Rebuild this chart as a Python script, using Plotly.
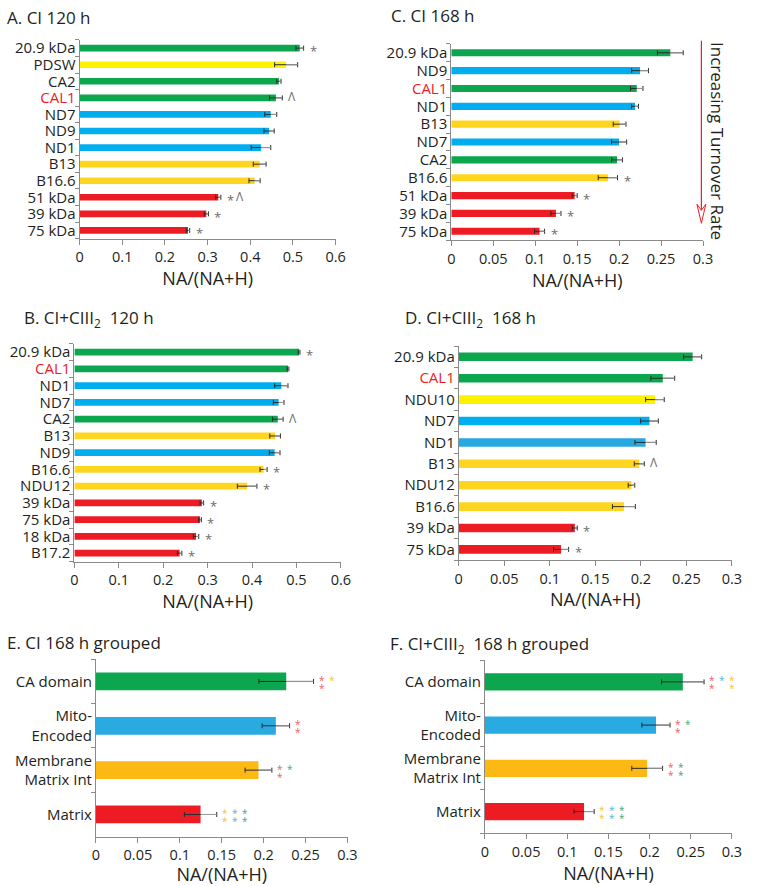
import plotly.graph_objects as go

W, H = 758, 886

# ---------------- data ----------------
# Panel A: CI 120 h
A_labels = ["20.9 kDa", "PDSW", "CA2", "CAL1", "ND7", "ND9", "ND1", "B13", "B16.6", "51 kDa", "39 kDa", "75 kDa"]
A_values = [0.516, 0.484, 0.467, 0.460, 0.448, 0.444, 0.425, 0.422, 0.410, 0.325, 0.297, 0.254]
A_errors = [0.009, 0.027, 0.005, 0.015, 0.014, 0.012, 0.023, 0.015, 0.013, 0.006, 0.005, 0.004]
A_groups = ["CA", "AccL", "CA", "CA", "Mito", "Mito", "Mito", "Acc", "Acc", "Mat", "Mat", "Mat"]
A_marks = [["*"], [], [], ["^"], [], [], [], [], [], ["*", "^"], ["*"], ["*"]]

# Panel B: CI+CIII2 120 h
B_labels = ["20.9 kDa", "CAL1", "ND1", "ND7", "CA2", "B13", "ND9", "B16.6", "NDU12", "39 kDa", "75 kDa", "18 kDa", "B17.2"]
B_values = [0.506, 0.481, 0.466, 0.460, 0.458, 0.452, 0.451, 0.426, 0.389, 0.287, 0.283, 0.274, 0.237]
B_errors = [0.002, 0.002, 0.015, 0.012, 0.012, 0.012, 0.012, 0.008, 0.022, 0.004, 0.003, 0.006, 0.005]
B_groups = ["CA", "CA", "Mito", "Mito", "CA", "Acc", "Mito", "Acc", "Acc", "Mat", "Mat", "Mat", "Mat"]
B_marks = [["*"], [], [], [], ["^"], [], [], ["*"], ["*"], ["*"], ["*"], ["*"], ["*"]]

# Panel C: CI 168 h
C_labels = ["20.9 kDa", "ND9", "CAL1", "ND1", "B13", "ND7", "CA2", "B16.6", "51 kDa", "39 kDa", "75 kDa"]
C_values = [0.261, 0.225, 0.221, 0.219, 0.2006, 0.200, 0.1976, 0.1866, 0.147, 0.1247, 0.1052]
C_errors = [0.0154, 0.010, 0.0074, 0.0041, 0.0076, 0.009, 0.0064, 0.0115, 0.003, 0.006, 0.006]
C_groups = ["CA", "Mito", "CA", "Mito", "Acc", "Mito", "CA", "Acc", "Mat", "Mat", "Mat"]
C_marks = [[], [], [], [], [], [], [], ["*"], ["*"], ["*"], ["*"]]

# Panel D: CI+CIII2 168 h
D_labels = ["20.9 kDa", "CAL1", "NDU10", "ND7", "ND1", "B13", "NDU12", "B16.6", "39 kDa", "75 kDa"]
D_values = [0.2569, 0.2241, 0.2155, 0.2095, 0.2052, 0.1983, 0.1897, 0.1814, 0.1275, 0.1124]
D_errors = [0.0099, 0.0131, 0.0102, 0.0097, 0.0117, 0.0055, 0.0036, 0.0126, 0.0027, 0.0083]
D_groups = ["CA", "CA", "AccL", "Mito", "Mito2", "Acc", "Acc", "Acc", "Mat", "Mat"]
D_marks = [[], [], [], [], [], ["^"], [], [], ["*"], ["*"]]

# Panel E: CI 168 h grouped
E_labels = ["CA domain", "Mito-<br>Encoded", "Membrane<br>Matrix Int", "Matrix"]
E_values = [0.227, 0.2146, 0.1939, 0.1248]
E_errors = [0.0326, 0.0164, 0.016, 0.0193]
E_groups = ["CA", "MitoG", "Mem", "Mat"]
E_sig = [[("Mat", 2), ("Mem", 1)], [("Mat", 2)], [("Mat", 2), ("CA", 1)],
         [("Mem", 2), ("MitoG", 2), ("CA", 2)]]

# Panel F: CI+CIII2 168 h grouped
F_labels = ["CA domain", "Mito-<br>Encoded", "Membrane<br>Matrix Int", "Matrix"]
F_values = [0.2404, 0.2078, 0.1971, 0.1204]
F_errors = [0.0258, 0.0171, 0.0187, 0.0123]
F_groups = ["CA", "MitoG", "Mem", "Mat"]
F_sig = [[("Mat", 2), ("MitoG", 1), ("Mem", 2)], [("Mat", 2), ("CA", 1)],
         [("Mat", 2), ("CA", 2)], [("Mem", 2), ("MitoG", 2), ("CA", 2)]]

# ---------------- styles ----------------
FONT = "Open Sans"
TXT = "#231f20"
AX = "#8a8a8a"
BAR_COLORS = {"CA": "#0ca64e", "Mito": "#00aeef", "Mito2": "#27a8e0", "MitoG": "#29abe2",
              "Acc": "#ffd51f", "AccL": "#fff200", "Mem": "#fdb913", "Mat": "#ed1c24"}
STAR_COLORS = {"Mat": "#ee5b68", "Mem": "#f6c23a", "MitoG": "#4cb5e5", "CA": "#3bae79"}
CAL_RED = "#ed1c24"


def px2x(p):
    return p / W


def px2y(p):
    return 1 - p / H


panels = [
    dict(lab=A_labels, val=A_values, err=A_errors, grp=A_groups, marks=A_marks, sig=None,
         xmax=0.6, dtick=0.1, xpx=(77, 338), ypx=(38, 237.5)),
    dict(lab=B_labels, val=B_values, err=B_errors, grp=B_groups, marks=B_marks, sig=None,
         xmax=0.6, dtick=0.1, xpx=(71.7, 343.3), ypx=(343, 561.5)),
    dict(lab=C_labels, val=C_values, err=C_errors, grp=C_groups, marks=C_marks, sig=None,
         xmax=0.3, dtick=0.05, xpx=(455.7, 712.3), ypx=(42, 239)),
    dict(lab=D_labels, val=D_values, err=D_errors, grp=D_groups, marks=D_marks, sig=None,
         xmax=0.3, dtick=0.05, xpx=(463.3, 741.7), ypx=(345.3, 560)),
    dict(lab=E_labels, val=E_values, err=E_errors, grp=E_groups, marks=None, sig=E_sig,
         xmax=0.3, dtick=0.05, xpx=(93.7, 350), ypx=(659.5, 837.5)),
    dict(lab=F_labels, val=F_values, err=F_errors, grp=F_groups, marks=None, sig=F_sig,
         xmax=0.3, dtick=0.05, xpx=(490, 741.7), ypx=(660.5, 834)),
]

fig = go.Figure()
annotations = []
layout = {}

for i, p in enumerate(panels):
    k = "" if i == 0 else str(i + 1)
    xa, ya = "x" + k, "y" + k
    n = len(p["lab"])
    fig.add_trace(go.Bar(
        x=p["val"], y=p["lab"], orientation="h", width=0.4,
        marker=dict(color=[BAR_COLORS[g] for g in p["grp"]], line=dict(width=0)),
        error_x=dict(type="data", array=p["err"], color="#2b2b2b", thickness=1, width=2.5),
        xaxis=xa, yaxis=ya, showlegend=False, hoverinfo="x+y"))
    # lighter outer half of the error bar
    fig.add_trace(go.Scatter(
        x=p["val"], y=p["lab"], mode="markers",
        marker=dict(size=1, color="rgba(0,0,0,0)"),
        error_x=dict(type="data", symmetric=False, array=p["err"], arrayminus=[0] * n,
                     color="#9a9a9a", thickness=1, width=0),
        xaxis=xa, yaxis=ya, showlegend=False, hoverinfo="skip"))

    ticktext = [f'<span style="color:{CAL_RED}">{l}</span>' if l == "CAL1" else l for l in p["lab"]]
    layout["xaxis" + k] = dict(
        domain=[px2x(p["xpx"][0]), px2x(p["xpx"][1])], anchor=ya,
        range=[0, p["xmax"] * 1.0005], dtick=p["dtick"], tick0=0,
        showline=True, linecolor=AX, linewidth=1, ticks="outside", ticklen=5,
        tickcolor=AX, showgrid=False, zeroline=False,
        tickfont=dict(family=FONT, size=14.5, color=TXT),
        title=dict(text="NA/(NA+H)", font=dict(family=FONT, size=18, color=TXT), standoff=1),
        fixedrange=True)
    layout["yaxis" + k] = dict(
        domain=[px2y(p["ypx"][1]), px2y(p["ypx"][0])], anchor=xa,
        type="category", categoryorder="array", categoryarray=p["lab"],
        range=[n - 0.5, -0.5], tickmode="array", tickvals=p["lab"], ticktext=ticktext,
        tickson="boundaries", ticks="outside", ticklen=4, tickcolor=AX,
        showline=True, linecolor=AX, linewidth=1, showgrid=False, zeroline=False,
        tickfont=dict(family=FONT, size=15, color=TXT), fixedrange=True)

    if p["marks"]:
        for lab, v, e, mk in zip(p["lab"], p["val"], p["err"], p["marks"]):
            for j, m in enumerate(mk):
                glyph = "Λ" if m == "^" else "*"
                annotations.append(dict(
                    x=v + e, y=lab, xref=xa, yref=ya, text=glyph, showarrow=False,
                    xanchor="left", yanchor="middle", xshift=4 + 9 * j,
                    yshift=-3 if glyph == "*" else 1,
                    font=dict(family=FONT, size=13 if glyph == "*" else 12, color="#6d6d6d")))
    if p["sig"]:
        for lab, v, e, cols in zip(p["lab"], p["val"], p["err"], p["sig"]):
            for j, (g, cnt) in enumerate(cols):
                offs = [4, -4] if cnt == 2 else [4]
                for o in offs:
                    annotations.append(dict(
                        x=v + e, y=lab, xref=xa, yref=ya, text="*", showarrow=False,
                        xanchor="center", yanchor="middle", xshift=8 + 10 * j,
                        yshift=o - 2.5,
                        font=dict(family=FONT, size=10, color=STAR_COLORS[g])))

# panel titles
titles = [("A. CI 120 h", 1, 16), ("C. CI 168 h", 392, 14),
          ("B. CI+CIII<sub>2</sub>  120 h", 18, 318), ("D. CI+CIII<sub>2</sub>  168 h", 406, 318),
          ("E. CI 168 h grouped", 1, 643), ("F. CI+CIII<sub>2</sub>  168 h grouped", 391, 645)]
for t, x, y in titles:
    annotations.append(dict(text=t, x=px2x(x), y=px2y(y), xref="paper", yref="paper",
                            xanchor="left", yanchor="middle", showarrow=False,
                            font=dict(family=FONT, size=17, color=TXT)))

# turnover-rate arrow and label (panel C)
annotations.append(dict(text="Increasing Turnover Rate", x=px2x(727), y=px2y(139),
                        xref="paper", yref="paper", textangle=90, showarrow=False,
                        xanchor="center", yanchor="middle",
                        font=dict(family=FONT, size=17, color=TXT)))
ax0, ay0, ay1 = 710.5, 39, 222
shapes = [
    dict(type="line", xref="paper", yref="paper", x0=px2x(ax0), x1=px2x(ax0),
         y0=px2y(ay0), y1=px2y(ay1 - 10), line=dict(color=CAL_RED, width=1.2)),
    dict(type="path", xref="paper", yref="paper",
         path=(f"M {px2x(ax0 - 4.5)},{px2y(ay1 - 19)} L {px2x(ax0)},{px2y(ay1)} "
               f"L {px2x(ax0 + 4.5)},{px2y(ay1 - 19)} L {px2x(ax0)},{px2y(ay1 - 13)} Z"),
         fillcolor="white", line=dict(color=CAL_RED, width=1)),
]

fig.update_layout(
    width=W, height=H, margin=dict(l=0, r=0, t=0, b=0),
    paper_bgcolor="white", plot_bgcolor="white", bargap=0.6,
    annotations=annotations, shapes=shapes, showlegend=False,
    font=dict(family=FONT, color=TXT), **layout)

fig.write_html("out.html", config={"displayModeBar": False},
               post_script="document.body.style.margin='0';document.body.style.overflow='hidden';")
